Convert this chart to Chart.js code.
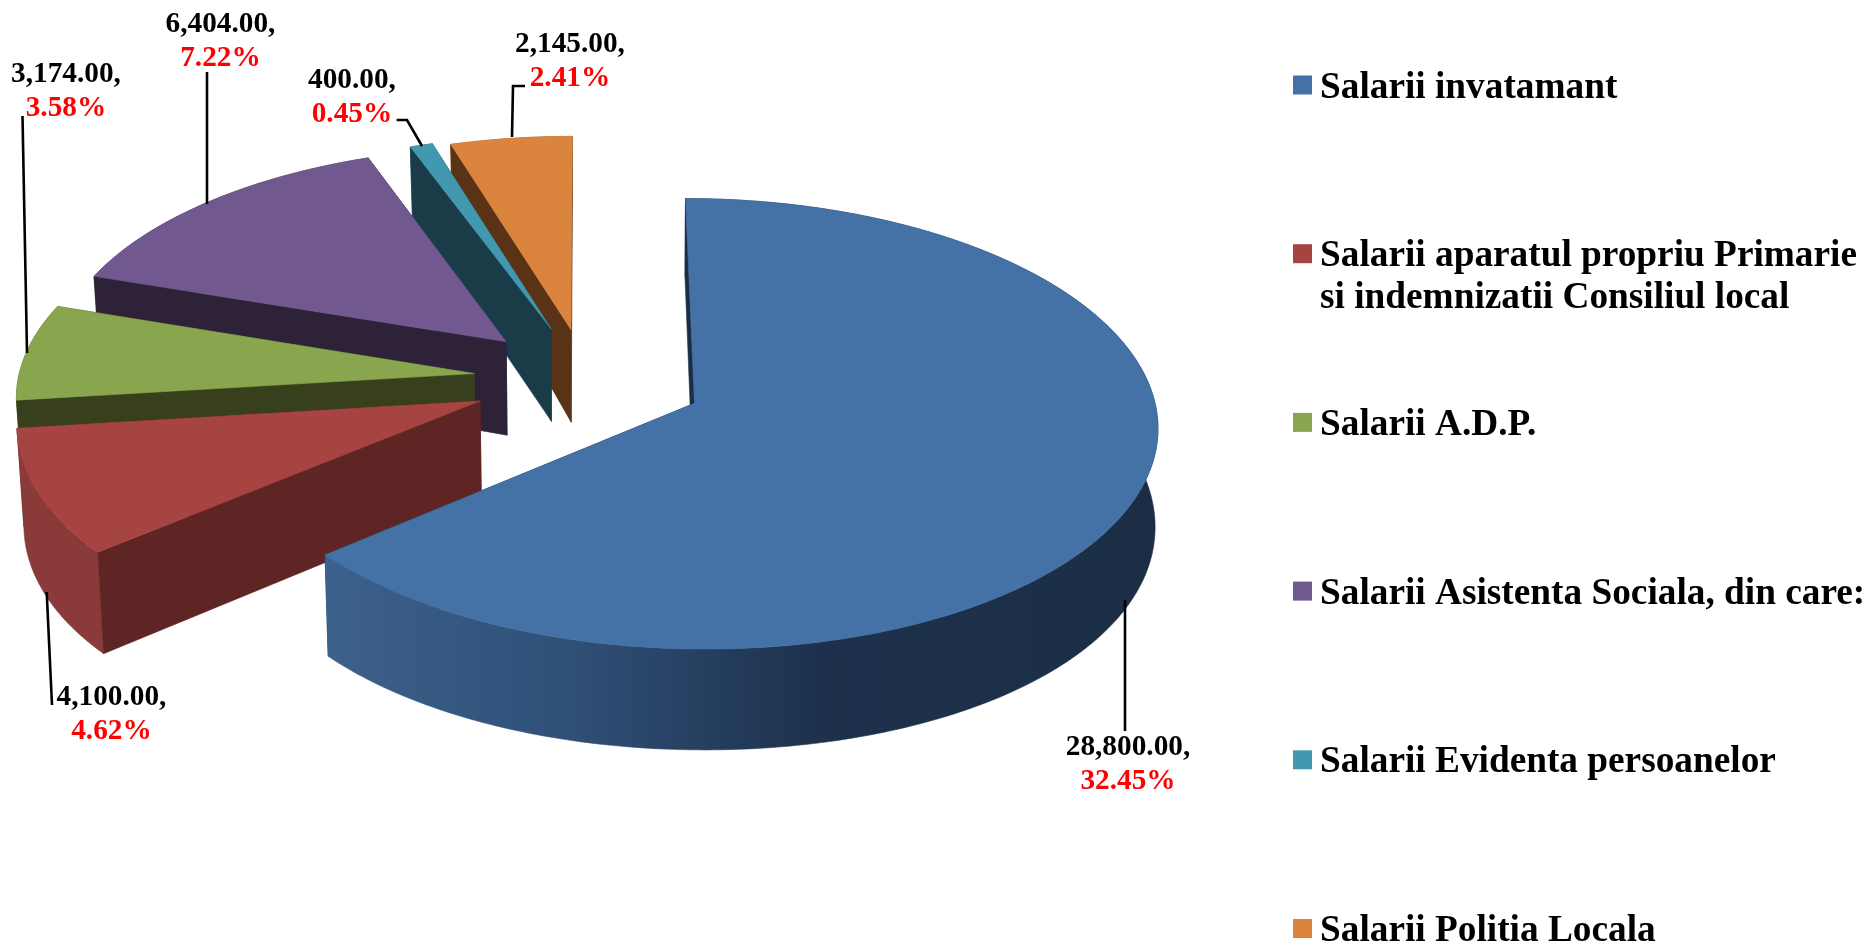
<!DOCTYPE html>
<html>
<head>
<meta charset="utf-8">
<style>html,body{margin:0;padding:0;background:#fff}#wrap{width:1864px;height:943px;position:relative}</style>
<script src="https://cdn.jsdelivr.net/npm/chart.js@4"></script>
</head>
<body>
<div id="wrap"><canvas id="c" width="1864" height="943"></canvas></div>
<script>
// ---- data ----
const categories = [
  ['Salarii invatamant'],
  ['Salarii aparatul propriu Primarie', 'si indemnizatii Consiliul local'],
  ['Salarii A.D.P.'],
  ['Salarii Asistenta Sociala, din care:'],
  ['Salarii Evidenta persoanelor'],
  ['Salarii Politia Locala']
];
const values = [28800, 4100, 3174, 6404, 400, 2145];
const percents = ['32.45%', '4.62%', '3.58%', '7.22%', '0.45%', '2.41%'];

// ---- styles ----
const topColors   = ['#4471A6', '#A64442', '#89A54E', '#71588F', '#4198AF', '#DB843D'];
const outerColors = ['#2F4F76', '#8A3A38', '#5A6E33', '#4A3A5E', '#2B6474', '#8F5728'];
const cutColors   = ['#1B2E46', '#5E2524', '#383F1D', '#2D2238', '#1A3C49', '#5A3316'];
const paintOrder  = [5, 4, 3, 2, 1, 0];
const explosion   = [0.259, 0.252, 0.248, 0.249, 0.247, 0.233];

// ---- view of the pie plane ----
const view = {u0: 586.5, v0: 379, sx: 456, sy: 219, persp: 0.09, shrinkLeft: 0.988, shrinkRight: 0.995};
const wallDepth = y => 96 - 13 * y - 7.8 * y * y;

// ---- label placement ----
const labelFont = 'bold 29.3px "Liberation Serif"';
const legendFont = 'bold 37.3px "Liberation Serif"';
const labelBoxes = [
  {x: 1128, y: 755, line: [[1125, 600], [1125, 731]]},
  {x: 111.5, y: 705, line: [[46.7, 592], [52, 705]]},
  {x: 66, y: 82, line: [[27, 353], [22.5, 116]]},
  {x: 220.5, y: 32, line: [[207, 204], [207, 72]]},
  {x: 352, y: 88, line: [[422, 146], [407, 120], [396.6, 120]]},
  {x: 570, y: 52, line: [[512, 137], [513, 86], [525, 86]]}
];
const legendLayout = {boxX: 1293, boxSize: 19, textX: 1320, firstBaseline: 97.5, step: 168.7, lineStep: 41.7};

function project(X, Y) {
  const w = 1 + view.persp * Y;
  return {u: view.u0 + view.sx * X / w, v: view.v0 - view.sy * Y / w};
}
function projectLow(X, Y) {
  const p = project(X, Y);
  const k = p.u < view.u0 ? view.shrinkLeft : view.shrinkRight;
  return {u: view.u0 + (p.u - view.u0) * k, v: p.v + wallDepth(Y)};
}
function poly(ctx, pts, fill) {
  ctx.beginPath();
  pts.forEach((p, i) => i ? ctx.lineTo(p.u, p.v) : ctx.moveTo(p.u, p.v));
  ctx.closePath();
  ctx.fillStyle = fill;
  ctx.fill();
  ctx.strokeStyle = fill;
  ctx.lineWidth = 0.6;
  ctx.stroke();
}
function wedgeGeometry(arc, explode) {
  const mid = (arc.startAngle + arc.endAngle) / 2;
  const ax = Math.cos(mid) * explode, ay = -Math.sin(mid) * explode;
  const rim = [];
  const n = Math.max(4, Math.ceil((arc.endAngle - arc.startAngle) * 60));
  for (let i = 0; i <= n; i++) {
    const a = arc.startAngle + (arc.endAngle - arc.startAngle) * i / n;
    rim.push([ax + Math.cos(a), ay - Math.sin(a)]);
  }
  return {apex: [ax, ay], rim};
}
function wall(ctx, planePts, fill) {
  const pts = planePts.map(p => project(p[0], p[1]))
    .concat(planePts.slice().reverse().map(p => projectLow(p[0], p[1])));
  poly(ctx, pts, fill);
}

const pie3d = {
  id: 'pie3d',
  beforeDatasetsDraw(chart) {
    const ctx = chart.ctx, arcs = chart.getDatasetMeta(0).data;
    ctx.save();
    paintOrder.forEach(i => {
      const g = wedgeGeometry(arcs[i], explosion[i]);
      const first = g.rim[0], last = g.rim[g.rim.length - 1];
      wall(ctx, [g.apex, last], cutColors[i]);
      let outer = outerColors[i];
      if (i === 0) {
        outer = ctx.createLinearGradient(326, 0, 1150, 0);
        outer.addColorStop(0, '#3C618C');
        outer.addColorStop(0.3, '#2F4F76');
        outer.addColorStop(0.6, '#1D314C');
        outer.addColorStop(1, '#1B2E46');
      }
      wall(ctx, g.rim, outer);
      wall(ctx, [g.apex, first], cutColors[i]);
      if (i === 0) {
        // the slim sliver of the blue slice's inner face, seen along its edge
        const a = project(g.apex[0], g.apex[1]), f = project(first[0], first[1]);
        poly(ctx, [f, {u: a.u - 3.5, v: a.v}, a], cutColors[0]);
      }
      poly(ctx, [g.apex].concat(g.rim).map(p => project(p[0], p[1])), topColors[i]);
    });
    ctx.restore();
    return false;
  },
  afterDraw(chart) {
    const ctx = chart.ctx;
    ctx.save();
    // leader lines and data labels
    ctx.strokeStyle = '#000';
    ctx.lineWidth = 2.6;
    labelBoxes.forEach((b, i) => {
      ctx.beginPath();
      b.line.forEach((p, k) => k ? ctx.lineTo(p[0], p[1]) : ctx.moveTo(p[0], p[1]));
      ctx.stroke();
      ctx.font = labelFont;
      ctx.textAlign = 'center';
      ctx.textBaseline = 'alphabetic';
      ctx.fillStyle = '#000';
      const txt = values[i].toLocaleString('en-US', {minimumFractionDigits: 2, maximumFractionDigits: 2}) + ',';
      ctx.fillText(txt, b.x, b.y);
      ctx.fillStyle = '#FF0000';
      ctx.fillText(percents[i], b.x, b.y + 34);
    });
    // legend
    const L = legendLayout;
    ctx.font = legendFont;
    ctx.textAlign = 'left';
    categories.forEach((lines, i) => {
      const base = L.firstBaseline + i * L.step;
      ctx.fillStyle = topColors[i];
      ctx.fillRect(L.boxX, base - 22, L.boxSize, L.boxSize);
      ctx.fillStyle = '#000';
      lines.forEach((t, k) => ctx.fillText(t, L.textX, base + k * L.lineStep));
    });
    ctx.restore();
  }
};

new Chart(document.getElementById('c'), {
  type: 'pie',
  data: {
    labels: categories,
    datasets: [{data: values, backgroundColor: topColors, borderWidth: 0}]
  },
  options: {
    responsive: false,
    animation: false,
    events: [],
    layout: {padding: 0},
    plugins: {legend: {display: false}, tooltip: {enabled: false}}
  },
  plugins: [pie3d]
});
</script>
</body>
</html>
